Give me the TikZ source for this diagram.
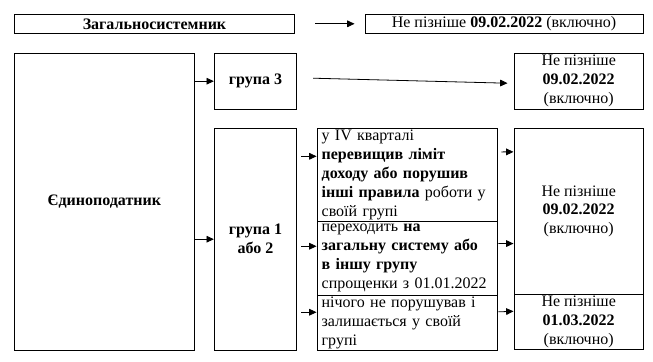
\documentclass[tikz,border=0pt]{standalone}
\usepackage{fontspec}
\setmainfont{Liberation Serif}
\usepackage{tikz}
\usetikzlibrary{arrows.meta,calc}

\begin{document}
\begin{tikzpicture}[x=0.75pt, y=-0.75pt,
    every node/.style={font=\fontsize{12pt}{14.2pt}\selectfont},
    box/.style={draw, line width=0.7pt, inner xsep=3.5pt, inner ysep=0.5pt, align=center},
    lbox/.style={box, inner ysep=0pt, text width=128pt, align=left},
    arr/.style={-{Triangle[length=5.5pt,width=5pt]}, line width=0.6pt}]
      \useasboundingbox (0,0) rectangle (653,361);
      % top row
      \node[box, minimum width=210.3pt, minimum height=14.25pt] (zag) at (154.5,23.8) {\textbf{Загальносистемник}};
      \node[box, minimum width=208.5pt, minimum height=14.25pt] (zagd) at (504,23.8) {Не пізніше \textbf{09.02.2022} (включно)};
      % left columns
      \node[box, minimum width=135.15pt, minimum height=222.5pt] (ed) at (104.4,201.7) {\textbf{Єдиноподатник}};
      \node[box, minimum width=61.8pt, minimum height=41.8pt] (g3) at (255.5,81.2) {\textbf{група 3}};
      \node[box, minimum width=61.8pt, minimum height=166.3pt] (g1) at (255.5,239.2) {\textbf{група 1}\\\textbf{або 2}};
      % middle column
      \node[lbox, minimum height=69.5pt] (ma) at (407,174.7) {у IV кварталі\\\textbf{перевищив ліміт}\\\textbf{доходу або порушив}\\\textbf{інші правила} роботи у\\своїй групі};
      \node[lbox, minimum height=55.5pt] (mb) at (407,258) {переходить \textbf{на}\\\textbf{загальну систему або}\\\textbf{в іншу групу}\\спрощенки з 01.01.2022};
      \node[lbox, minimum height=41.25pt] (mc) at (407,322.5) {нічого не порушував і\\залишається у своїй\\групі};
      % right column
      \node[box, minimum width=97.1pt, minimum height=41.8pt] (d3) at (578.7,81.2) {Не пізніше\\\textbf{09.02.2022}\\(включно)};
      \node[box, minimum width=97.1pt, minimum height=124.6pt] (da) at (578.7,211.4) {Не пізніше\\\textbf{09.02.2022}\\(включно)};
      \node[box, minimum width=97.1pt, minimum height=41.6pt] (db) at (578.7,322.2) {Не пізніше\\\textbf{01.03.2022}\\(включно)};
      % arrows
      \draw[arr] ($(zag.east)+(20,0)$) -- ($(zagd.west)+(-10,0)$);
      \draw[arr] (ed.east |- g3.west) -- (g3.west);
      \draw[arr] (ed.east |- g1.west) -- (g1.west);
      \draw[arr] ($(g3.east)+(16,-3)$) -- ($(d3.west)+(-6,2)$);
      \draw[arr] ($(g1.east |- ma.north)+(4,28.4)$) -- ($(ma.north west)+(0,28.4)$);
      \draw[arr] ($(g1.east |- mb.north)+(4,25.7)$) -- ($(mb.north west)+(0,25.7)$);
      \draw[arr] ($(g1.east |- mc.north)+(4,17.7)$) -- ($(mc.north west)+(0,17.7)$);
      \draw[arr] ($(ma.north east)+(4,24)$) -- ($(da.north west)+(0,24)$);
      \draw[arr] ($(mb.north east)+(1,23)$) -- ($(da.north west)+(0,115.7)$);
      \draw[arr] ($(mc.north east)+(1,17.3)$) -- ($(db.north west)+(0,17.3)$);
    \end{tikzpicture}
\end{document}
